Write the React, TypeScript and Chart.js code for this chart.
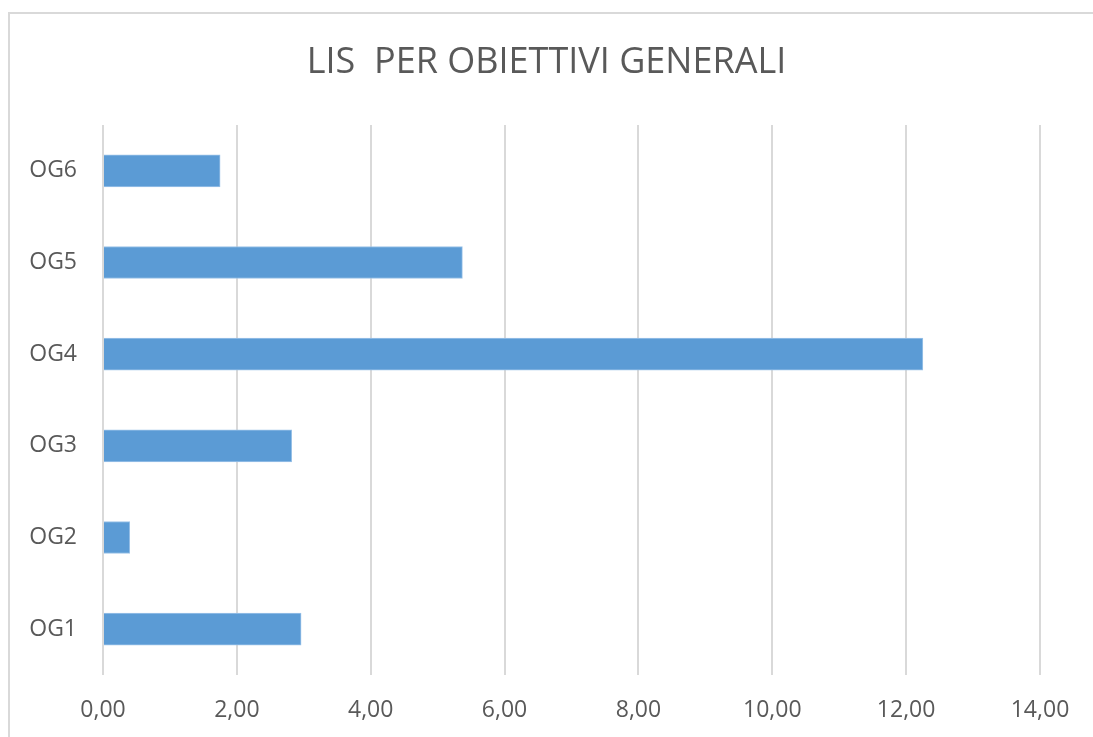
import React, { useEffect, useRef } from "react";
import { Chart, registerables } from "chart.js";

Chart.register(...registerables);

const categories = ["OG1", "OG2", "OG3", "OG4", "OG5", "OG6"];
const values = [2.96, 0.4, 2.82, 12.25, 5.37, 1.75];
const chartTitle = "LIS  PER OBIETTIVI GENERALI";
const xMin = 0;
const xMax = 14;
const xStep = 2;

const W = 1093;
const H = 737;
const FONT = "'Open Sans', sans-serif";
const TEXT = "#595959";
const GRID = "#d9d9d9";

const frame = {
  id: "frame",
  beforeDraw(chart: any) {
    const ctx = chart.ctx;
    ctx.save();
    ctx.fillStyle = "#ffffff";
    ctx.fillRect(0, 0, chart.width, chart.height);
    ctx.strokeStyle = GRID;
    ctx.lineWidth = 2;
    ctx.beginPath();
    ctx.moveTo(9, chart.height);
    ctx.lineTo(9, 13);
    ctx.lineTo(chart.width, 13);
    ctx.stroke();
    // centred title over the whole picture
    ctx.fillStyle = TEXT;
    ctx.font = "normal 36px " + FONT;
    ctx.textAlign = "center";
    ctx.textBaseline = "middle";
    ctx.fillText(chartTitle, chart.width / 2, 62.6);
    ctx.restore();
  },
};

export default function App() {
  const ref = useRef<HTMLCanvasElement | null>(null);
  useEffect(() => {
    if (!ref.current) return;
    const chart = new Chart(ref.current, {
      type: "bar",
      data: {
        labels: categories,
        datasets: [
          {
            data: values,
            backgroundColor: "#5b9bd5",
            borderColor: "#9cc3e8",
            borderWidth: 1,
            barThickness: 32,
          },
        ],
      },
      options: {
        indexAxis: "y",
        animation: false,
        responsive: false,
        maintainAspectRatio: false,
        layout: { padding: { left: 0, right: 53, top: 125, bottom: 0 } },
        plugins: {
          legend: { display: false },
          tooltip: { enabled: false },
          title: { display: false },
        },
        scales: {
          x: {
            min: xMin,
            max: xMax,
            ticks: {
              stepSize: xStep,
              color: TEXT,
              font: { family: FONT, size: 23 },
              padding: 22,
              callback: (v: any) => Number(v).toFixed(2).replace(".", ","),
            },
            grid: { color: GRID, lineWidth: 2, drawTicks: false },
            border: { display: false },
            afterFit: (s: any) => {
              s.height = 62;
            },
          },
          y: {
            reverse: true,
            ticks: {
              color: TEXT,
              font: { family: FONT, size: 23 },
              padding: 26,
            },
            grid: { display: false, drawTicks: false },
            border: { display: false },
            afterFit: (s: any) => {
              s.width = 103;
            },
          },
        },
      },
      plugins: [frame],
    });
    return () => chart.destroy();
  }, []);
  return (
    <div style={{ position: "absolute", left: 0, top: 0, width: W, height: H }}>
      <canvas ref={ref} width={W} height={H} style={{ display: "block", width: W, height: H }} />
    </div>
  );
}
